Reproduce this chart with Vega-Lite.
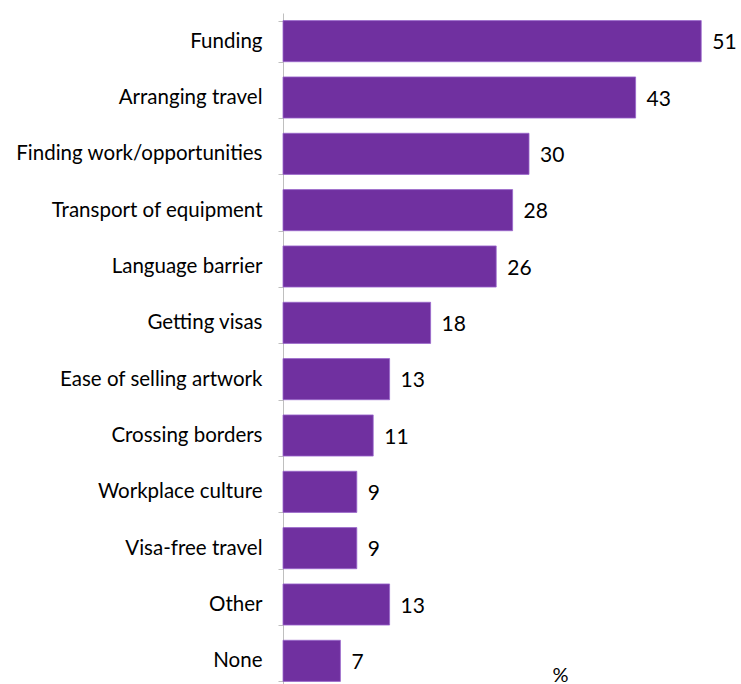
{
  "$schema": "https://vega.github.io/schema/vega-lite/v6.json",
  "autosize": {"type": "none"},
  "padding": {"left": 283, "top": 13, "right": 0, "bottom": 0},
  "width": 458,
  "height": 676,
  "background": "white",
  "config": {"view": {"stroke": null}, "font": "Lato"},
  "data": {"values": [
    {"item": "Funding", "pct": 51},
    {"item": "Arranging travel", "pct": 43},
    {"item": "Finding work/opportunities", "pct": 30},
    {"item": "Transport of equipment", "pct": 28},
    {"item": "Language barrier", "pct": 26},
    {"item": "Getting visas", "pct": 18},
    {"item": "Ease of selling artwork", "pct": 13},
    {"item": "Crossing borders", "pct": 11},
    {"item": "Workplace culture", "pct": 9},
    {"item": "Visa-free travel", "pct": 9},
    {"item": "Other", "pct": 13},
    {"item": "None", "pct": 7}
  ]},
  "encoding": {
    "y": {
      "field": "item", "type": "nominal", "sort": null,
      "scale": {"paddingInner": 0.27, "paddingOuter": 0.135},
      "axis": {
        "title": null, "tickBand": "extent", "tickSize": 5,
        "tickColor": "#BFBFBF", "domainColor": "#BFBFBF",
        "labelFontSize": 20.5, "labelColor": "#000000", "labelPadding": 16,
        "labelFont": "Lato", "labelLimit": 300
      }
    },
    "x": {
      "field": "pct", "type": "quantitative",
      "scale": {"domain": [0, 55.85], "nice": false},
      "axis": {
        "title": "%", "labels": false, "ticks": false, "domain": false, "grid": false,
        "titleX": 277, "titleY": -8, "titleFontSize": 20, "titleFontWeight": "normal",
        "titleColor": "#000000", "titleFont": "Lato", "titleBaseline": "alphabetic"
      }
    }
  },
  "layer": [
    {"mark": {"type": "bar", "color": "#7030A0", "stroke": "#9966CC", "strokeWidth": 0.8}},
    {"mark": {"type": "text", "align": "left", "baseline": "middle", "dx": 11, "dy": 2, "fontSize": 21, "color": "#000000", "font": "Lato"},
     "encoding": {"text": {"field": "pct", "type": "quantitative"}}}
  ]
}
